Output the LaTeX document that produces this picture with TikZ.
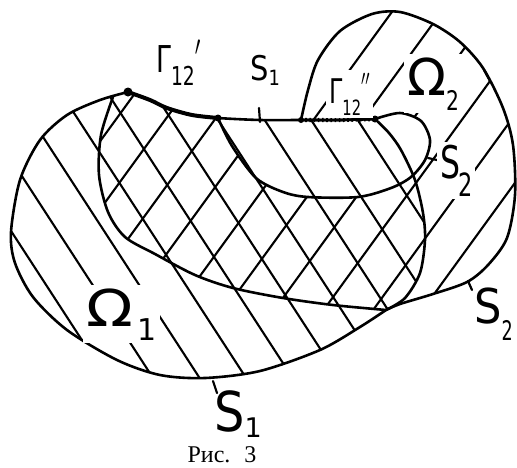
\RequirePackage{fix-cm}
\documentclass[tikz,border=0pt]{standalone}
\usepackage[no-math]{fontspec}
\newfontfamily\rufont{Liberation Serif}
\newfontfamily\hand{DejaVu Sans}
\newcommand\handtxt[2]{{\hand\fontsize{#1}{#1}\selectfont #2}}
\newcommand\primetxt[2]{{\fontsize{#1}{#1}\selectfont$#2$}}
\begin{document}
\begin{tikzpicture}[x=1pt,y=-1pt,
  bnd/.style={line width=2.6pt, line join=round, line cap=round},
  hatch/.style={line width=2.1pt},
  gam/.style={line width=4pt, line cap=round},
  tickmark/.style={line width=2.2pt, line cap=round},
  lbl/.style={inner sep=0pt, anchor=base west},
  wlbl/.style={inner sep=3pt, anchor=base west, fill=white},
  junction/.style={circle, fill, inner sep=0pt, minimum size=#1}]
\useasboundingbox (0,0) rectangle (517,467);

% ---- hatching of Omega_1 ( \ direction )
\begin{scope}
\clip plot[smooth] coordinates {(128,92) (150,100) (167,108) (192,115) (218,118) (260,120) (301,120) (340,120) (375,119)}
  -- plot[smooth] coordinates {(375,119) (389,133) (401,150) (415,180) (423,213) (425,240) (420,273) (405,298) (386,310)}
  -- plot[smooth] coordinates {(386,310) (360,327) (320,350) (260,371) (205,378) (160,375) (117,360) (67,330) (33,297) (15,263) (11,232) (20,180) (40,140) (67,115) (100,100) (128,92)}
  -- cycle;
\foreach \k in {-9,...,5}{
  \pgfmathsetmacro\c{117.5+39*\k}
  \draw[hatch] ({\c*0.839-600*0.545},{-\c*0.545-600*0.839}) -- ({\c*0.839+600*0.545},{-\c*0.545+600*0.839});
}
\end{scope}

% ---- hatching of Omega_2 ( / direction )
\begin{scope}
\clip plot[smooth] coordinates {(128,92) (150,100) (167,108) (192,115) (218,118)}
  -- plot[smooth] coordinates {(218,118) (232,146) (256,178) (283,192) (308,197) (358,197) (391,188) (411,177) (425,160) (430,140) (421,121) (400,113) (375,119)}
  -- plot[smooth] coordinates {(375,119) (340,120) (301,120)}
  -- plot[smooth] coordinates {(301,120) (308,90) (318,60) (340,31) (372,14) (400,12) (433,24) (460,42) (483,68) (503,108) (513,145) (515,195) (507,238) (488,265) (467,282) (433,294) (400,304) (386,310)}
  -- plot[smooth] coordinates {(386,310) (333,305) (283,298) (233,288) (195,275) (155,254) (125,237) (108,212) (99,175) (101,135) (113,97)}
  -- cycle;
\foreach \k in {-5,...,6}{
  \pgfmathsetmacro\c{324+40*\k}
  \draw[hatch] ({\c*0.809-600*0.588},{\c*0.588+600*0.809}) -- ({\c*0.809+600*0.588},{\c*0.588-600*0.809});
}
\end{scope}

% ---- boundary S1 of Omega_1
\draw[bnd] plot[smooth] coordinates {(128,92) (150,100) (167,108) (192,115) (218,118) (260,120) (301,120) (340,120) (375,119)}
  -- plot[smooth] coordinates {(375,119) (389,133) (401,150) (415,180) (423,213) (425,240) (420,273) (405,298) (386,310)}
  -- plot[smooth] coordinates {(386,310) (360,327) (320,350) (260,371) (205,378) (160,375) (117,360) (67,330) (33,297) (15,263) (11,232) (20,180) (40,140) (67,115) (100,100) (128,92)}
  -- cycle;

% ---- boundary S2 of Omega_2
\draw[bnd] plot[smooth] coordinates {(218,118) (232,146) (256,178) (283,192) (308,197) (358,197) (391,188) (411,177) (425,160) (430,140) (421,121) (400,113) (375,119)};
\draw[bnd] plot[smooth] coordinates {(301,120) (308,90) (318,60) (340,31) (372,14) (400,12) (433,24) (460,42) (483,68) (503,108) (513,145) (515,195) (507,238) (488,265) (467,282) (433,294) (400,304) (386,310)};
\draw[bnd] plot[smooth] coordinates {(386,310) (333,305) (283,298) (233,288) (195,275) (155,254) (125,237) (108,212) (99,175) (101,135) (113,97)};

% ---- Gamma'_12 and Gamma''_12 (thick parts of the common boundary)
\draw[gam] plot[smooth] coordinates {(128,92) (150,100) (167,108) (192,115) (218,118)};
\draw[line width=2.8pt] (301,120) -- (340,120) -- (375,119);
\draw[line width=4.2pt, dash pattern=on 1.6pt off 2.6pt] (301,120) -- (340,120) -- (375,119);
\node[junction=9pt] (p1) at (128,92) {};
\node[junction=7pt] (p2) at (218,118) {};
\node[junction=6pt] (p3) at (301,120) {};
\node[junction=7pt] (p4) at (375,119) {};

% ---- tick marks pointing to the labels
\draw[tickmark] (259,108) -- (260,122);
\draw[tickmark] (213,381) -- (217,393);
\draw[tickmark] (428,158) -- (437,160);
\draw[tickmark] (468,281) -- (472,290);
\draw[tickmark] (484,70) -- (490,81);

% ---- labels
\node[lbl] (g1) at (156,72) {\scalebox{0.72}[1]{\handtxt{37}{Γ}\raisebox{-13pt}{\handtxt{26}{12}}\raisebox{17pt}{\primetxt{28}{\prime}}}};
\node[lbl] (s1a) at (250,80) {\scalebox{0.85}[1]{\handtxt{34}{S}\raisebox{-5pt}{\handtxt{21}{1}}}};
\node[wlbl] (g2) at (326,103) {\scalebox{0.7}[1]{\handtxt{34}{Γ}\raisebox{-12pt}{\handtxt{21}{12}}\raisebox{18pt}{\primetxt{22}{\prime\prime}}}};
\node[wlbl] (o2) at (404,95) {\handtxt{51}{Ω}\raisebox{-15pt}{\scalebox{0.75}[1]{\handtxt{27}{2}}}};
\node[wlbl] (s2a) at (437,178) {\scalebox{0.7}[1]{\handtxt{45}{S}\kern-3pt\raisebox{-18pt}{\handtxt{32}{2}}}};
\node[wlbl] (o1) at (83,326) {\scalebox{1.2}[1]{\handtxt{51}{Ω}}\kern5pt\raisebox{-14pt}{\handtxt{30}{1}}};
\node[lbl] (s2b) at (474,323) {\scalebox{0.9}[1]{\handtxt{48}{S}}\raisebox{-17pt}{\scalebox{0.65}[1]{\handtxt{27}{2}}}};
\node[lbl] (s1b) at (214,431) {\scalebox{0.87}[1]{\handtxt{55}{S}}\raisebox{-6pt}{\handtxt{27}{1}}};
\node[anchor=base, inner sep=0pt] (cap) at (222,462) {\rufont\fontsize{24}{24}\selectfont Рис.\hspace{14pt}3};
\end{tikzpicture}
\end{document}
